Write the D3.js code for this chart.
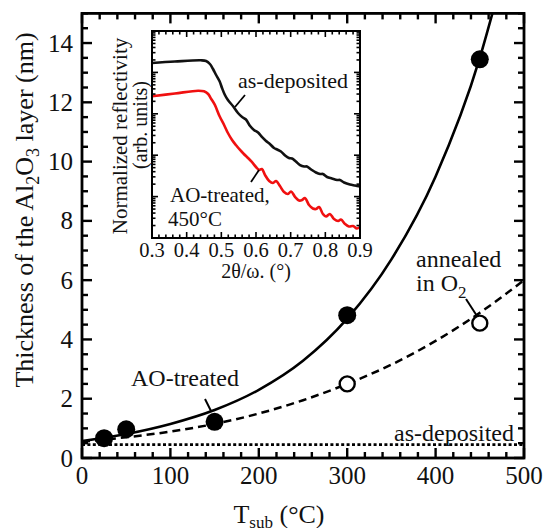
<!DOCTYPE html>
<html>
<head>
<meta charset="utf-8">
<script src="https://cdn.jsdelivr.net/npm/d3@7"></script>
<style>
  body { margin: 0; background: #fff; }
  svg { display: block; }
  text { font-family: "Liberation Serif", "Times New Roman", serif; fill: #111; }
</style>
</head>
<body>
<svg id="chart" width="547" height="528"></svg>
<script>
// ---- main panel: Al2O3 thickness vs substrate temperature ----
const aoTemp = [25, 50, 150, 300, 450];
const aoThickness = [0.67, 0.97, 1.22, 4.82, 13.45];
const o2Temp = [300, 450];
const o2Thickness = [2.5, 4.55];
const asDepositedLevel = 0.45;

// fitted curves, sampled along temperature
const aoFitTemp = [0, 50, 100, 150, 200, 250, 300, 350, 400, 450, 467];
const aoFitThickness = [0.57, 0.81, 1.15, 1.62, 2.3, 3.28, 4.7, 6.7, 9.5, 13.5, 15.3];
const o2FitTemp = [0, 50, 100, 150, 200, 250, 300, 350, 400, 450, 500];
const o2FitThickness = [0.55, 0.7, 0.89, 1.15, 1.5, 1.95, 2.5, 3.15, 3.95, 4.9, 6.0];

const xTickValues = [0, 100, 200, 300, 400, 500];
const yTickValues = [0, 2, 4, 6, 8, 10, 12, 14];

// ---- inset: normalized X-ray reflectivity (log10 scale) ----
const insetTickValues = [0.3, 0.4, 0.5, 0.6, 0.7, 0.8, 0.9];
const asDepAngle = [0.300, 0.366, 0.441, 0.456, 0.467, 0.476, 0.485, 0.495, 0.502, 0.510, 0.519, 0.534, 0.548, 0.560, 0.571, 0.583, 0.594, 0.606, 0.617, 0.629, 0.640, 0.652, 0.661, 0.672, 0.684, 0.695, 0.704, 0.715, 0.727, 0.739, 0.747, 0.759, 0.773, 0.785, 0.793, 0.805, 0.819, 0.834, 0.842, 0.854, 0.871, 0.886, 0.900];
const asDepLogR = [-0.773, -0.737, -0.708, -0.725, -0.797, -0.918, -1.063, -1.215, -1.377, -1.539, -1.667, -1.819, -1.981, -2.077, -2.138, -2.295, -2.391, -2.452, -2.560, -2.657, -2.729, -2.826, -2.862, -2.911, -3.007, -3.068, -3.080, -3.152, -3.237, -3.273, -3.273, -3.345, -3.418, -3.454, -3.454, -3.527, -3.563, -3.599, -3.599, -3.659, -3.708, -3.732, -3.756];
const aoAngle = [0.300, 0.366, 0.433, 0.450, 0.462, 0.470, 0.481, 0.495, 0.508, 0.519, 0.531, 0.542, 0.554, 0.565, 0.577, 0.588, 0.600, 0.609, 0.617, 0.626, 0.638, 0.649, 0.658, 0.669, 0.681, 0.692, 0.701, 0.713, 0.724, 0.733, 0.741, 0.753, 0.764, 0.773, 0.782, 0.793, 0.802, 0.813, 0.825, 0.837, 0.845, 0.857, 0.868, 0.880, 0.891, 0.900];
const aoLogR = [-1.577, -1.510, -1.442, -1.457, -1.522, -1.630, -1.780, -2.060, -2.271, -2.464, -2.633, -2.754, -2.874, -2.971, -3.068, -3.164, -3.285, -3.357, -3.333, -3.478, -3.623, -3.671, -3.623, -3.744, -3.889, -3.937, -3.877, -4.010, -4.094, -4.082, -4.034, -4.203, -4.287, -4.300, -4.251, -4.420, -4.481, -4.420, -4.541, -4.589, -4.553, -4.662, -4.722, -4.710, -4.771, -4.734];

const svg = d3.select("#chart");

// ---------- main panel ----------
const x = d3.scaleLinear().domain([0, 500]).range([82, 524]);
const y = d3.scaleLinear().domain([0, 15]).range([458, 13.4]);
const [X0, X1] = x.range();
const [Y0, Y1] = y.range();

svg.append("clipPath").attr("id", "plotClip")
  .append("rect").attr("x", X0).attr("y", Y1).attr("width", X1 - X0).attr("height", Y0 - Y1);

const plot = svg.append("g").attr("clip-path", "url(#plotClip)");

// as-deposited level (dotted)
plot.append("line")
  .attr("x1", x(0)).attr("x2", x(500))
  .attr("y1", y(asDepositedLevel)).attr("y2", y(asDepositedLevel))
  .attr("stroke", "#000").attr("stroke-width", 2.6).attr("stroke-dasharray", "3,2.4");

const line = d3.line().x(d => x(d[0])).y(d => y(d[1])).curve(d3.curveMonotoneX);

// O2-annealed fit (dashed)
plot.append("path")
  .attr("d", line(d3.zip(o2FitTemp, o2FitThickness)))
  .attr("fill", "none").attr("stroke", "#000").attr("stroke-width", 2.5)
  .attr("stroke-dasharray", "8,5");

// AO-treated fit (solid)
plot.append("path")
  .attr("d", line(d3.zip(aoFitTemp, aoFitThickness)))
  .attr("fill", "none").attr("stroke", "#000").attr("stroke-width", 2.6);

// markers
plot.selectAll("circle.ao").data(d3.zip(aoTemp, aoThickness)).join("circle")
  .attr("class", "ao").attr("cx", d => x(d[0])).attr("cy", d => y(d[1]))
  .attr("r", 9).attr("fill", "#000");
plot.selectAll("circle.o2").data(d3.zip(o2Temp, o2Thickness)).join("circle")
  .attr("class", "o2").attr("cx", d => x(d[0])).attr("cy", d => y(d[1]))
  .attr("r", 7.5).attr("fill", "#fff").attr("stroke", "#000").attr("stroke-width", 2.4);

// ticks on all four sides, pointing inward
const tickG = svg.append("g").attr("stroke", "#000");
d3.range(0, 501, 20).forEach(v => {
  const len = v % 100 === 0 ? 10 : 6;
  tickG.append("line").attr("x1", x(v)).attr("x2", x(v)).attr("y1", Y0).attr("y2", Y0 - len).attr("stroke-width", 2.4);
  tickG.append("line").attr("x1", x(v)).attr("x2", x(v)).attr("y1", Y1).attr("y2", Y1 + len).attr("stroke-width", 2.4);
});
d3.range(0, 15.01, 0.5).forEach(v => {
  const len = Math.abs(v % 2) < 1e-9 ? 10 : 6;
  tickG.append("line").attr("x1", X0).attr("x2", X0 + len).attr("y1", y(v)).attr("y2", y(v)).attr("stroke-width", 2.4);
  tickG.append("line").attr("x1", X1).attr("x2", X1 - len).attr("y1", y(v)).attr("y2", y(v)).attr("stroke-width", 2.4);
});

// frame
svg.append("rect").attr("x", X0).attr("y", Y1).attr("width", X1 - X0).attr("height", Y0 - Y1)
  .attr("fill", "none").attr("stroke", "#000").attr("stroke-width", 2.8);

// tick labels
svg.append("g").selectAll("text").data(xTickValues).join("text")
  .attr("x", d => x(d)).attr("y", 484).attr("text-anchor", "middle")
  .attr("font-size", 25).text(d => d);
svg.append("g").selectAll("text").data(yTickValues).join("text")
  .attr("x", 73).attr("y", d => y(d) + 8.5).attr("text-anchor", "end")
  .attr("font-size", 25).text(d => d);

// axis titles
const yTitle = svg.append("text")
  .attr("transform", "translate(33,210) rotate(-90)")
  .attr("text-anchor", "middle").attr("font-size", 26);
yTitle.append("tspan").text("Thickness of the Al");
yTitle.append("tspan").attr("font-size", 18).attr("dy", 6).text("2");
yTitle.append("tspan").attr("dy", -6).text("O");
yTitle.append("tspan").attr("font-size", 18).attr("dy", 6).text("3");
yTitle.append("tspan").attr("dy", -6).text(" layer (nm)");

const xTitle = svg.append("text").attr("x", 279).attr("y", 523)
  .attr("text-anchor", "middle").attr("font-size", 26);
xTitle.append("tspan").text("T");
xTitle.append("tspan").attr("font-size", 17).attr("dy", 5).text("sub");
xTitle.append("tspan").attr("dy", -5).text(" (°C)");

// annotations
svg.append("text").attr("x", 131).attr("y", 386).attr("font-size", 24).text("AO-treated");
svg.append("line").attr("x1", 205).attr("y1", 399).attr("x2", 211).attr("y2", 411)
  .attr("stroke", "#000").attr("stroke-width", 2);
svg.append("text").attr("x", 416).attr("y", 267).attr("font-size", 24).text("annealed");
const inO2 = svg.append("text").attr("x", 416).attr("y", 291).attr("font-size", 24);
inO2.append("tspan").text("in O");
inO2.append("tspan").attr("font-size", 17).attr("dy", 7).text("2");
svg.append("line").attr("x1", 466).attr("y1", 299).attr("x2", 477).attr("y2", 316)
  .attr("stroke", "#000").attr("stroke-width", 2);
svg.append("text").attr("x", 394).attr("y", 441).attr("font-size", 24).text("as-deposited");

// ---------- inset ----------
const xi = d3.scaleLinear().domain([0.3, 0.9]).range([152, 360]);
const yi = d3.scaleLinear().domain([-5, 0]).range([238, 31]);
const [I0, I1] = xi.range();
const [J0, J1] = yi.range();

svg.append("rect").attr("x", I0).attr("y", J1).attr("width", I1 - I0).attr("height", J0 - J1)
  .attr("fill", "#fff");

const iline = d3.line().x(d => xi(d[0])).y(d => yi(d[1])).curve(d3.curveCatmullRom.alpha(0.5));
svg.append("path").attr("d", iline(d3.zip(asDepAngle, asDepLogR)))
  .attr("fill", "none").attr("stroke", "#111").attr("stroke-width", 2.6);
svg.append("path").attr("d", iline(d3.zip(aoAngle, aoLogR)))
  .attr("fill", "none").attr("stroke", "#f01010").attr("stroke-width", 2.6);

const itick = svg.append("g").attr("stroke", "#000").attr("stroke-width", 1.6);
d3.range(0, 31).forEach(i => {
  const v = 0.3 + i * 0.02;
  const len = i % 5 === 0 ? 6 : 3.5;
  itick.append("line").attr("x1", xi(v)).attr("x2", xi(v)).attr("y1", J0).attr("y2", J0 - len);
  itick.append("line").attr("x1", xi(v)).attr("x2", xi(v)).attr("y1", J1).attr("y2", J1 + len);
});
for (let dec = -5; dec < 0; dec++) {
  for (let k = 1; k <= 9; k++) {
    const v = dec + Math.log10(k);
    const len = k === 1 ? 6 : 3.5;
    itick.append("line").attr("x1", I0).attr("x2", I0 + len).attr("y1", yi(v)).attr("y2", yi(v));
    itick.append("line").attr("x1", I1).attr("x2", I1 - len).attr("y1", yi(v)).attr("y2", yi(v));
  }
}

svg.append("rect").attr("x", I0).attr("y", J1).attr("width", I1 - I0).attr("height", J0 - J1)
  .attr("fill", "none").attr("stroke", "#000").attr("stroke-width", 2);

svg.append("g").selectAll("text").data(insetTickValues).join("text")
  .attr("x", d => xi(d)).attr("y", 257).attr("text-anchor", "middle")
  .attr("font-size", 20.5).text(d => d.toFixed(1));

svg.append("text").attr("x", 256).attr("y", 278).attr("text-anchor", "middle")
  .attr("font-size", 20).text("2θ/ω. (°)");
svg.append("text").attr("transform", "translate(127,136) rotate(-90)")
  .attr("text-anchor", "middle").attr("font-size", 21).text("Normalized reflectivity");
svg.append("text").attr("transform", "translate(147,125) rotate(-90)")
  .attr("text-anchor", "middle").attr("font-size", 20).text("(arb. units)");

svg.append("text").attr("x", 238).attr("y", 88).attr("font-size", 22).text("as-deposited");
svg.append("line").attr("x1", 245).attr("y1", 95).attr("x2", 235).attr("y2", 107)
  .attr("stroke", "#000").attr("stroke-width", 1.8);
svg.append("text").attr("x", 170).attr("y", 202).attr("font-size", 21).text("AO-treated,");
svg.append("text").attr("x", 168).attr("y", 226).attr("font-size", 21).text("450°C");
svg.append("line").attr("x1", 251).attr("y1", 182).attr("x2", 259).attr("y2", 170)
  .attr("stroke", "#000").attr("stroke-width", 1.8);
</script>
</body>
</html>
